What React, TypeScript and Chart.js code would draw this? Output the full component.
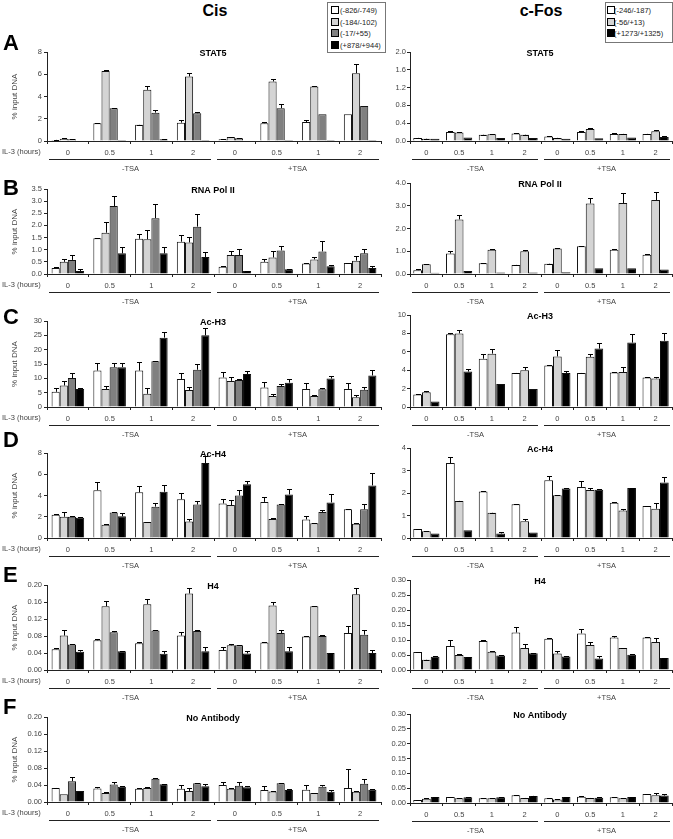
import React, { useEffect, useRef } from 'react';
import { Chart, registerables } from 'chart.js';

Chart.register(...registerables);

const FONT = 'Arial, "Liberation Sans", Helvetica, sans-serif';

// ---------- categories / labels ----------
const timeLabels = ['0', '0.5', '1', '2', '0', '0.5', '1', '2'];
const tsaLabels = ['-TSA', '+TSA'];
const xAxisCaption = 'IL-3 (hours)';
const yAxisCaption = '% input DNA';
const cisRegions = ['(-826/-749)', '(-184/-102)', '(-17/+55)', '(+878/+944)'];
const fosRegions = ['(-246/-187)', '(-56/+13)', '(+1273/+1325)'];
const cisColors = ['#ffffff', '#d4d4d4', '#808080', '#000000'];
const fosColors = ['#ffffff', '#d4d4d4', '#000000'];

// ---------- Cis data (4 regions x 8 conditions) ----------
const cisStat5 = [
  [0.1, 1.6, 1.45, 1.65, 0.15, 1.6, 1.7, 2.4],
  [0.2, 6.3, 4.6, 5.8, 0.35, 5.35, 4.9, 6.1],
  [0.15, 2.95, 2.55, 2.5, 0.25, 2.95, 2.4, 3.15],
  [0.05, 0.1, 0.15, 0.1, 0.05, 0.1, 0.1, 0.1],
];
const cisStat5Err = [
  [0.02, 0.05, 0.03, 0.2, 0.02, 0.12, 0.2, 0],
  [0.03, 0.05, 0.35, 0.35, 0.03, 0.25, 0.05, 0.8],
  [0.02, 0.05, 0.2, 0.15, 0.02, 0.35, 0, 0],
  [0, 0, 0.02, 0, 0, 0, 0, 0],
];
const cisPol2 = [
  [0.25, 1.47, 1.45, 1.33, 0.3, 0.5, 0.43, 0.45],
  [0.5, 1.7, 1.43, 1.3, 0.78, 0.68, 0.6, 0.55],
  [0.58, 2.8, 2.3, 1.95, 0.78, 0.97, 0.93, 0.85],
  [0.12, 0.85, 0.85, 0.7, 0.12, 0.2, 0.32, 0.25],
];
const cisPol2Err = [
  [0.05, 0.03, 0.2, 0.28, 0.03, 0.1, 0.02, 0.02],
  [0.1, 0.45, 0.38, 0.23, 0.15, 0.25, 0.1, 0.18],
  [0.22, 0.4, 0.6, 0.52, 0.27, 0.2, 0.42, 0.17],
  [0.07, 0.25, 0.28, 0.22, 0.02, 0.02, 0.06, 0.07],
];
const cisAcH3 = [
  [5.3, 12.7, 12.7, 9.8, 10.3, 6.8, 6.3, 6.3],
  [7.5, 6.3, 4.6, 5.9, 9.1, 3.8, 3.8, 3.4],
  [10.1, 13.9, 16.0, 13.0, 9.4, 7.3, 6.2, 6.0],
  [6.3, 13.9, 24.2, 25.0, 11.5, 8.5, 9.9, 11.0],
];
const cisAcH3Err = [
  [1.3, 2.7, 3.0, 2.0, 1.9, 1.9, 1.9, 2.0],
  [1.5, 1.2, 2.0, 1.1, 1.5, 0.6, 0.3, 0.8],
  [1.8, 1.6, 0.1, 1.9, 0.2, 0.6, 0.6, 0.9],
  [0.2, 1.5, 1.9, 2.6, 1.1, 1.3, 0.8, 2.0],
];
const cisAcH4 = [
  [2.2, 4.5, 4.3, 3.65, 3.25, 3.4, 1.75, 2.7],
  [2.0, 1.25, 1.5, 1.55, 3.1, 1.8, 1.4, 1.35],
  [2.0, 2.4, 2.95, 3.15, 4.0, 3.15, 2.45, 2.7],
  [1.9, 2.05, 4.35, 7.05, 5.05, 4.1, 3.35, 4.95],
];
const cisAcH4Err = [
  [0.05, 0.8, 0.55, 0.55, 0.45, 0.5, 0.3, 0.02],
  [0.45, 0.05, 0.05, 0.2, 0.45, 0.1, 0.05, 0.05],
  [0.05, 0.05, 0.35, 0.35, 0.5, 0.05, 0.2, 0.47],
  [0.1, 0.35, 0.6, 0.7, 0.3, 0.55, 0.8, 1.2],
];
const cisH4 = [
  [0.049, 0.07, 0.063, 0.081, 0.047, 0.065, 0.079, 0.087],
  [0.081, 0.15, 0.155, 0.18, 0.058, 0.152, 0.15, 0.178],
  [0.06, 0.089, 0.093, 0.092, 0.058, 0.087, 0.08, 0.083],
  [0.043, 0.044, 0.038, 0.044, 0.039, 0.044, 0.04, 0.04],
];
const cisH4Err = [
  [0.003, 0.002, 0.004, 0.008, 0.008, 0.002, 0.002, 0.016],
  [0.014, 0.013, 0.013, 0.013, 0.003, 0.007, 0.001, 0.016],
  [0.001, 0.002, 0.002, 0.001, 0.001, 0.007, 0.002, 0.012],
  [0.005, 0.001, 0.006, 0.009, 0.006, 0.009, 0.001, 0.006],
];
const cisNoAb = [
  [0.033, 0.032, 0.031, 0.031, 0.04, 0.028, 0.029, 0.033],
  [0.018, 0.021, 0.033, 0.026, 0.031, 0.025, 0.021, 0.024],
  [0.049, 0.041, 0.055, 0.044, 0.038, 0.044, 0.036, 0.043],
  [0.026, 0.036, 0.042, 0.037, 0.035, 0.028, 0.024, 0.029],
];
const cisNoAbErr = [
  [0.001, 0.004, 0.002, 0.01, 0.006, 0.01, 0.01, 0.045],
  [0, 0.002, 0.002, 0.007, 0.001, 0.002, 0.001, 0.002],
  [0.01, 0.007, 0.002, 0.001, 0.01, 0.001, 0.005, 0.012],
  [0, 0.002, 0.001, 0.005, 0.003, 0.003, 0.004, 0.001],
];

// ---------- c-Fos data (3 regions x 8 conditions) ----------
const fosStat5 = [
  [0.07, 0.2, 0.14, 0.17, 0.1, 0.2, 0.16, 0.16],
  [0.05, 0.19, 0.15, 0.14, 0.07, 0.27, 0.16, 0.22],
  [0.05, 0.08, 0.07, 0.07, 0.05, 0.06, 0.08, 0.09],
];
const fosStat5Err = [
  [0.005, 0.03, 0.005, 0.01, 0.005, 0.03, 0.02, 0.005],
  [0.005, 0.005, 0.01, 0.005, 0.005, 0.03, 0.005, 0.02],
  [0, 0, 0, 0, 0, 0, 0, 0.02],
];
const fosPol2 = [
  [0.17, 0.9, 0.47, 0.4, 0.45, 1.22, 1.07, 0.85],
  [0.43, 2.4, 1.07, 1.0, 1.12, 3.1, 3.12, 3.25],
  [0.05, 0.13, 0.07, 0.07, 0.08, 0.25, 0.25, 0.2],
];
const fosPol2Err = [
  [0.03, 0.1, 0.01, 0.01, 0.01, 0.03, 0.01, 0.01],
  [0.02, 0.18, 0.03, 0.05, 0.01, 0.26, 0.42, 0.35],
  [0, 0, 0, 0, 0, 0, 0, 0],
];
const fosAcH3 = [
  [1.35, 7.9, 5.25, 3.7, 4.5, 3.7, 3.75, 3.2],
  [1.6, 8.0, 5.8, 4.0, 5.5, 5.45, 3.8, 3.1],
  [0.6, 3.85, 2.5, 1.95, 3.7, 6.35, 7.0, 7.2],
];
const fosAcH3Err = [
  [0.05, 0.1, 0.5, 0.05, 0.1, 0.02, 0.1, 0.1],
  [0.1, 0.4, 0.55, 0.3, 0.7, 0.35, 0.5, 0.2],
  [0, 0.3, 0, 0, 0.2, 0.6, 0.9, 0.85],
];
const fosAcH4 = [
  [0.4, 3.33, 2.07, 1.5, 2.57, 2.27, 1.57, 1.42],
  [0.3, 1.65, 1.12, 0.75, 1.9, 2.13, 1.22, 1.3],
  [0.2, 0.35, 0.2, 0.25, 2.2, 2.15, 2.22, 2.47],
];
const fosAcH4Err = [
  [0.02, 0.25, 0.02, 0.03, 0.17, 0.25, 0.02, 0.02],
  [0.01, 0.01, 0.01, 0.1, 0.01, 0.1, 0.05, 0.25],
  [0, 0, 0.05, 0, 0.03, 0.05, 0.02, 0.22],
];
const fosH4 = [
  [0.06, 0.08, 0.097, 0.125, 0.104, 0.122, 0.108, 0.108],
  [0.034, 0.05, 0.061, 0.073, 0.055, 0.083, 0.073, 0.093],
  [0.044, 0.043, 0.048, 0.056, 0.045, 0.038, 0.051, 0.04],
];
const fosH4Err = [
  [0.001, 0.02, 0.002, 0.017, 0.002, 0.014, 0.005, 0.002],
  [0.001, 0.002, 0.002, 0.015, 0.008, 0.012, 0.001, 0.015],
  [0.004, 0.001, 0.003, 0.001, 0.001, 0.01, 0.003, 0.001],
];
const fosNoAb = [
  [0.01, 0.02, 0.016, 0.026, 0.016, 0.021, 0.019, 0.03],
  [0.014, 0.016, 0.016, 0.017, 0.012, 0.017, 0.016, 0.026],
  [0.02, 0.019, 0.019, 0.024, 0.02, 0.018, 0.02, 0.025],
];
const fosNoAbErr = [
  [0.001, 0.001, 0.001, 0.001, 0.001, 0.001, 0.001, 0.002],
  [0.002, 0.001, 0.001, 0.001, 0.001, 0.001, 0.001, 0.008],
  [0.001, 0.001, 0.001, 0.001, 0.001, 0.001, 0.001, 0.004],
];

// ---------- panel titles / axis ranges ----------
const panelTitles = ['STAT5', 'RNA Pol II', 'Ac-H3', 'Ac-H4', 'H4', 'No Antibody'];
const panelLetters = ['A', 'B', 'C', 'D', 'E', 'F'];
const cisMax = [8, 3.5, 30, 8, 0.2, 0.2];
const cisStep = [1, 0.5, 5, 1, 0.04, 0.04];
const cisDec = [0, 1, 0, 0, 2, 2];
const fosMax = [2.0, 4.0, 10, 4, 0.3, 0.3];
const fosStep = [0.4, 0.5, 2, 1, 0.05, 0.05];
const fosDec = [1, 1, 0, 0, 2, 2];

// ---------- layout (pixels) ----------
const cisPlotTop = [52, 189, 321, 453, 585, 717];
const cisPlotBottom = [141, 274, 407, 538, 670, 802];
const fosPlotTop = [52, 183, 315, 448, 580, 714];
const fosPlotBottom = [141, 274, 407, 538, 670, 803];
const letterTop = [35, 180, 309, 432, 567, 699];

const cisValues = [cisStat5, cisPol2, cisAcH3, cisAcH4, cisH4, cisNoAb];
const cisErrors = [cisStat5Err, cisPol2Err, cisAcH3Err, cisAcH4Err, cisH4Err, cisNoAbErr];
const fosValues = [fosStat5, fosPol2, fosAcH3, fosAcH4, fosH4, fosNoAb];
const fosErrors = [fosStat5Err, fosPol2Err, fosAcH3Err, fosAcH4Err, fosH4Err, fosNoAbErr];

type Spec = {
  title: string;
  values: number[][];
  errors: number[][];
  max: number;
  step: number;
  dec: number;
  cis: boolean;
  plotTop: number;
  plotBottom: number;
};

const PAD_TOP = 8;
const BOTTOM_H = 36;
const AXIS = '#222';
const TICK = '#444';

function Panel({ spec }: { spec: Spec }) {
  const ref = useRef<HTMLCanvasElement>(null);
  const left = spec.cis ? 0 : 380;
  const width = spec.cis ? 386 : 293;
  const axisWidth = spec.cis ? 47 : 30;
  const padRight = spec.cis ? 5 : 1;
  const top = spec.plotTop - PAD_TOP;
  const height = spec.plotBottom - spec.plotTop + PAD_TOP + BOTTOM_H;

  useEffect(() => {
    const colors = spec.cis ? cisColors : fosColors;
    const regions = spec.cis ? cisRegions : fosRegions;
    const deco = {
      id: 'deco',
      afterDatasetsDraw(chart: any) {
        const ctx = chart.ctx;
        const ys = chart.scales.y;
        ctx.save();
        ctx.strokeStyle = '#000';
        ctx.lineWidth = 1;
        chart.data.datasets.forEach((ds: any, di: number) => {
          const meta = chart.getDatasetMeta(di);
          meta.data.forEach((bar: any, i: number) => {
            const v = ds.data[i];
            const e = spec.errors[di][i];
            if (!e) return;
            const x = Math.round(bar.x) + 0.5;
            const y0 = ys.getPixelForValue(v);
            const y1 = Math.round(ys.getPixelForValue(v + e)) + 0.5;
            ctx.beginPath();
            ctx.moveTo(x, y0);
            ctx.lineTo(x, y1);
            ctx.moveTo(x - 2.5, y1);
            ctx.lineTo(x + 2.5, y1);
            ctx.stroke();
          });
        });
        ctx.restore();
      },
      afterDraw(chart: any) {
        const ctx = chart.ctx;
        const a = chart.chartArea;
        ctx.save();
        // panel title
        ctx.fillStyle = '#000';
        ctx.font = `bold 9px ${FONT}`;
        ctx.textAlign = 'center';
        ctx.textBaseline = 'middle';
        ctx.fillText(spec.title, (a.left + a.right) / 2 - 1, a.top + 2);
        // TSA lines
        const mid = (a.left + a.right) / 2;
        const ly = Math.round(a.bottom + 18) + 0.5;
        ctx.strokeStyle = AXIS;
        ctx.lineWidth = 1;
        ctx.beginPath();
        ctx.moveTo(a.left + 2, ly);
        ctx.lineTo(mid - 3, ly);
        ctx.moveTo(mid + 3, ly);
        ctx.lineTo(a.right - 2, ly);
        ctx.stroke();
        ctx.fillStyle = TICK;
        ctx.font = `7.5px ${FONT}`;
        ctx.fillText(tsaLabels[0], (a.left + mid) / 2, a.bottom + 28);
        ctx.fillText(tsaLabels[1], (mid + a.right) / 2, a.bottom + 28);
        if (spec.cis) {
          ctx.textAlign = 'left';
          ctx.fillText(xAxisCaption, 2, a.bottom + 11);
          ctx.save();
          ctx.translate(15, (a.top + a.bottom) / 2);
          ctx.rotate(-Math.PI / 2);
          ctx.textAlign = 'center';
          ctx.font = `8px ${FONT}`;
          ctx.fillText(yAxisCaption, 0, 0);
          ctx.restore();
        }
        ctx.restore();
      },
    };

    const chart = new Chart(ref.current as HTMLCanvasElement, {
      type: 'bar',
      data: {
        labels: timeLabels,
        datasets: spec.values.map((vals, i) => ({
          label: regions[i],
          data: vals,
          backgroundColor: colors[i],
          borderColor: '#111',
          borderWidth: 1,
          barPercentage: 1,
          categoryPercentage: spec.cis ? 0.78 : 0.8,
        })),
      },
      options: {
        responsive: false,
        animation: false,
        devicePixelRatio: 1,
        layout: { padding: { top: PAD_TOP, right: padRight, left: 0, bottom: 0 } },
        plugins: {
          legend: { display: false },
          tooltip: { enabled: false },
          title: { display: false },
        },
        scales: {
          x: {
            grid: {
              display: true,
              drawOnChartArea: false,
              drawTicks: true,
              tickLength: 3,
              offset: true,
              color: AXIS,
            },
            border: { display: true, color: AXIS },
            ticks: {
              font: { family: FONT, size: 7.5 },
              color: TICK,
              padding: 4,
              maxRotation: 0,
              autoSkip: false,
            },
            afterFit: (s: any) => {
              s.height = BOTTOM_H;
            },
          },
          y: {
            min: 0,
            max: spec.max,
            grid: { display: true, drawOnChartArea: false, tickLength: 3, color: AXIS },
            border: { display: true, color: AXIS },
            ticks: {
              stepSize: spec.step,
              font: { family: FONT, size: 7.5 },
              color: TICK,
              padding: spec.cis ? 2 : 1,
              callback: (v: any) => Number(v).toFixed(spec.dec),
            },
            afterFit: (s: any) => {
              s.width = axisWidth;
            },
          },
        },
      },
      plugins: [deco],
    } as any);
    return () => chart.destroy();
  }, []);

  return (
    <canvas
      ref={ref}
      width={width}
      height={height}
      style={{ position: 'absolute', left, top, width, height }}
    />
  );
}

function Legend({ x, y, w, h, items, colors, swX, txX }: any) {
  const rowY = [10, 22, 33, 45];
  return (
    <>
      <div
        style={{
          position: 'absolute',
          left: x,
          top: y,
          width: w,
          height: h,
          border: '1px solid #777',
          boxSizing: 'border-box',
          background: '#fff',
        }}
      />
      {items.map((t: string, i: number) => (
        <div
          key={t}
          style={{
            position: 'absolute',
            left: swX,
            top: rowY[i] - 5,
            height: 10,
            display: 'flex',
            alignItems: 'center',
            font: `7.5px ${FONT}`,
            color: '#222',
            whiteSpace: 'nowrap',
          }}
        >
          <span
            style={{
              display: 'inline-block',
              width: 6,
              height: 6,
              border: '1px solid #000',
              background: colors[i],
              marginRight: txX - swX - 8,
            }}
          />
          {t}
        </div>
      ))}
    </>
  );
}

export default function App() {
  const specs: Spec[] = [];
  for (let r = 0; r < 6; r++) {
    specs.push({
      title: panelTitles[r],
      values: cisValues[r],
      errors: cisErrors[r],
      max: cisMax[r],
      step: cisStep[r],
      dec: cisDec[r],
      cis: true,
      plotTop: cisPlotTop[r],
      plotBottom: cisPlotBottom[r],
    });
    specs.push({
      title: panelTitles[r],
      values: fosValues[r],
      errors: fosErrors[r],
      max: fosMax[r],
      step: fosStep[r],
      dec: fosDec[r],
      cis: false,
      plotTop: fosPlotTop[r],
      plotBottom: fosPlotBottom[r],
    });
  }
  return (
    <div
      style={{
        position: 'fixed',
        left: 0,
        top: 0,
        width: 673,
        height: 839,
        background: '#fff',
        overflow: 'hidden',
        fontFamily: FONT,
      }}
    >
      {specs.map((s, i) => (
        <Panel key={i} spec={s} />
      ))}
      <div
        style={{
          position: 'absolute',
          left: 165,
          width: 100,
          top: 3,
          textAlign: 'center',
          font: `bold 16px/16px ${FONT}`,
          color: '#000',
        }}
      >
        Cis
      </div>
      <div
        style={{
          position: 'absolute',
          left: 491,
          width: 100,
          top: 3,
          textAlign: 'center',
          font: `bold 16px/16px ${FONT}`,
          color: '#000',
        }}
      >
        c-Fos
      </div>
      {panelLetters.map((l, i) => (
        <div
          key={l}
          style={{
            position: 'absolute',
            left: 3,
            top: letterTop[i] - 3,
            font: `bold 22px/22px ${FONT}`,
            color: '#000',
          }}
        >
          {l}
        </div>
      ))}
      <Legend x={327} y={2} w={59} h={51} items={cisRegions} colors={cisColors} swX={331} txX={340} />
      <Legend x={605} y={2} w={68} h={41} items={fosRegions} colors={fosColors} swX={607} txX={614} />
    </div>
  );
}
